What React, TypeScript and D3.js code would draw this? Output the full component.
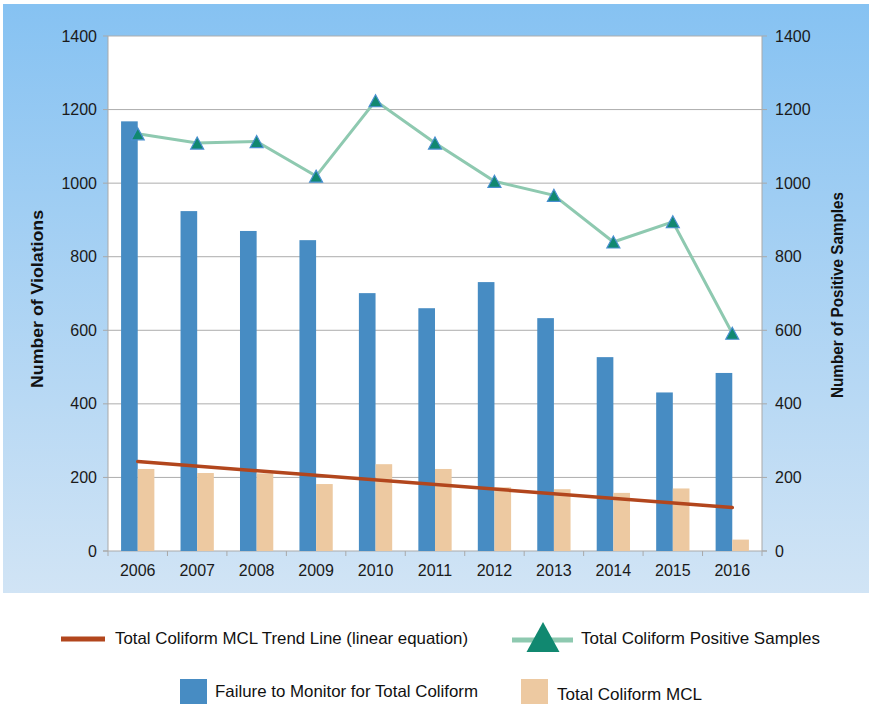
import { useEffect, useRef } from 'react';
import * as d3 from 'd3';

// data
const years = ['2006', '2007', '2008', '2009', '2010', '2011', '2012', '2013', '2014', '2015', '2016'];
const failureToMonitor = [1168, 924, 870, 845, 701, 660, 731, 633, 527, 431, 484];
const coliformMCL = [223, 212, 211, 182, 236, 223, 173, 168, 158, 170, 31];
const positiveSamples = [1134, 1109, 1113, 1019, 1224, 1109, 1005, 967, 840, 895, 592];
const yTicks = [0, 200, 400, 600, 800, 1000, 1200, 1400];

const FONT = '"Liberation Sans", Arial, Helvetica, sans-serif';
const BLUE = '#478cc3';
const TAN = '#edc9a1';
const RUST = '#b2461d';
const MINT = '#8ec9b0';
const TEAL = '#118870';

export default function App() {
  const svgRef = useRef<SVGSVGElement | null>(null);

  useEffect(() => {
    if (!svgRef.current) return;
    const W = 869;
    const H = 704;
    const plot = { left: 108, right: 762, top: 36, bottom: 551 };

    const svg = d3.select(svgRef.current);
    svg.selectAll('*').remove();
    svg.attr('width', W).attr('height', H);

    // background panel gradient
    const defs = svg.append('defs');
    const grad = defs
      .append('linearGradient')
      .attr('id', 'bg')
      .attr('x1', 0)
      .attr('y1', 0)
      .attr('x2', 0)
      .attr('y2', 1);
    grad.append('stop').attr('offset', '0%').attr('stop-color', '#86c2f2');
    grad.append('stop').attr('offset', '100%').attr('stop-color', '#d1e4f5');

    svg.append('rect').attr('width', W).attr('height', H).attr('fill', '#fff');
    svg.append('rect').attr('x', 3).attr('y', 4).attr('width', W - 3).attr('height', 589).attr('fill', 'url(#bg)');

    svg
      .append('rect')
      .attr('x', plot.left)
      .attr('y', plot.top)
      .attr('width', plot.right - plot.left)
      .attr('height', plot.bottom - plot.top)
      .attr('fill', '#fff');

    const x = d3.scaleBand<string>().domain(years).range([plot.left, plot.right]);
    const y = d3.scaleLinear().domain([0, 1400]).range([plot.bottom, plot.top]);
    const barW = x.bandwidth() * 0.28;
    const cx = (d: string) => (x(d) as number) + x.bandwidth() / 2;

    // gridlines
    svg
      .append('g')
      .selectAll('line')
      .data(yTicks.filter((t) => t > 0))
      .join('line')
      .attr('x1', plot.left)
      .attr('x2', plot.right)
      .attr('y1', (d) => y(d))
      .attr('y2', (d) => y(d))
      .attr('stroke', '#adadad')
      .attr('stroke-width', 1);

    // axis lines + ticks
    const axisColor = '#a9a9a9';
    const ax = svg.append('g').attr('stroke', axisColor).attr('stroke-width', 1);
    ax.append('line').attr('x1', plot.left).attr('x2', plot.left).attr('y1', plot.top).attr('y2', plot.bottom);
    ax.append('line').attr('x1', plot.right).attr('x2', plot.right).attr('y1', plot.top).attr('y2', plot.bottom);
    ax.append('line').attr('x1', plot.left - 5).attr('x2', plot.right + 5).attr('y1', plot.bottom).attr('y2', plot.bottom);
    ax.selectAll('.tl')
      .data(yTicks)
      .join('line')
      .attr('x1', plot.left - 5)
      .attr('x2', plot.left)
      .attr('y1', (d) => y(d))
      .attr('y2', (d) => y(d));
    ax.selectAll('.tr')
      .data(yTicks)
      .join('line')
      .attr('x1', plot.right)
      .attr('x2', plot.right + 5)
      .attr('y1', (d) => y(d))
      .attr('y2', (d) => y(d));
    ax.selectAll('.tb')
      .data([...years.map((d) => x(d) as number), plot.right])
      .join('line')
      .attr('x1', (d) => d)
      .attr('x2', (d) => d)
      .attr('y1', plot.bottom)
      .attr('y2', plot.bottom + 5);

    // tick labels
    const labels = svg.append('g').attr('font-family', FONT).attr('font-size', 16).attr('fill', '#1a1a1a');
    labels
      .selectAll('.l')
      .data(yTicks)
      .join('text')
      .attr('x', plot.left - 11)
      .attr('y', (d) => y(d) + 5.5)
      .attr('text-anchor', 'end')
      .text((d) => d);
    labels
      .selectAll('.r')
      .data(yTicks)
      .join('text')
      .attr('x', plot.right + 13)
      .attr('y', (d) => y(d) + 5.5)
      .text((d) => d);
    labels
      .selectAll('.b')
      .data(years)
      .join('text')
      .attr('x', (d) => cx(d))
      .attr('y', plot.bottom + 25)
      .attr('text-anchor', 'middle')
      .text((d) => d);

    // axis titles
    svg
      .append('text')
      .attr('transform', 'translate(43,299) rotate(-90)')
      .attr('text-anchor', 'middle')
      .attr('font-family', FONT)
      .attr('font-weight', 'bold')
      .attr('font-size', 16.5)
      .attr('textLength', 178)
      .attr('lengthAdjust', 'spacingAndGlyphs')
      .attr('fill', '#111')
      .text('Number of Violations');
    svg
      .append('text')
      .attr('transform', 'translate(843,295) rotate(-90)')
      .attr('text-anchor', 'middle')
      .attr('font-family', FONT)
      .attr('font-weight', 'bold')
      .attr('font-size', 16.5)
      .attr('textLength', 206)
      .attr('lengthAdjust', 'spacingAndGlyphs')
      .attr('fill', '#111')
      .text('Number of Positive Samples');

    // bars
    svg
      .append('g')
      .selectAll('rect')
      .data(years)
      .join('rect')
      .attr('x', (d) => cx(d) - barW)
      .attr('y', (_, i) => y(failureToMonitor[i]))
      .attr('width', barW)
      .attr('height', (_, i) => plot.bottom - y(failureToMonitor[i]))
      .attr('fill', BLUE);
    svg
      .append('g')
      .selectAll('rect')
      .data(years)
      .join('rect')
      .attr('x', (d) => cx(d))
      .attr('y', (_, i) => y(coliformMCL[i]))
      .attr('width', barW)
      .attr('height', (_, i) => plot.bottom - y(coliformMCL[i]))
      .attr('fill', TAN);

    // linear trend of MCL (least squares)
    const n = coliformMCL.length;
    const mx = (n - 1) / 2;
    const my = d3.mean(coliformMCL) as number;
    const slope =
      d3.sum(coliformMCL, (v, i) => (i - mx) * (v - my)) / d3.sum(coliformMCL, (_, i) => (i - mx) * (i - mx));
    const trend = [0, n - 1].map((i) => ({ year: years[i], v: my + slope * (i - mx) }));
    const line = d3
      .line<{ year: string; v: number }>()
      .x((d) => cx(d.year))
      .y((d) => y(d.v));
    svg
      .append('path')
      .attr('d', line(trend))
      .attr('fill', 'none')
      .attr('stroke', RUST)
      .attr('stroke-width', 3.5)
      .attr('stroke-linecap', 'round');

    // positive samples line + triangle markers
    const pts = years.map((d, i) => ({ year: d, v: positiveSamples[i] }));
    svg
      .append('path')
      .attr('d', line(pts))
      .attr('fill', 'none')
      .attr('stroke', MINT)
      .attr('stroke-width', 3);
    const tri = (w: number, h: number) => `M0,${-h / 2}L${w / 2},${h / 2}L${-w / 2},${h / 2}Z`;
    svg
      .append('g')
      .selectAll('path')
      .data(pts)
      .join('path')
      .attr('transform', (d) => `translate(${cx(d.year)},${y(d.v)})`)
      .attr('d', tri(13, 12))
      .attr('fill', TEAL)
      .attr('stroke', '#4a8fd0')
      .attr('stroke-width', 1.2);

    // legend
    const lg = svg.append('g').attr('font-family', FONT).attr('font-size', 16.5).attr('fill', '#111');
    const legendText = (x0: number, y0: number, len: number, s: string) =>
      lg
        .append('text')
        .attr('x', x0)
        .attr('y', y0)
        .attr('textLength', len)
        .attr('lengthAdjust', 'spacingAndGlyphs')
        .text(s);

    lg.append('line').attr('x1', 61).attr('x2', 105).attr('y1', 639).attr('y2', 639).attr('stroke', RUST).attr('stroke-width', 5);
    legendText(115, 644, 353, 'Total Coliform MCL Trend Line (linear equation)');

    lg.append('line').attr('x1', 512).attr('x2', 573).attr('y1', 640).attr('y2', 640).attr('stroke', MINT).attr('stroke-width', 5);
    lg.append('path').attr('transform', 'translate(543,637)').attr('d', tri(33, 30)).attr('fill', TEAL);
    legendText(581, 644, 239, 'Total Coliform Positive Samples');

    lg.append('rect').attr('x', 180).attr('y', 679).attr('width', 27).attr('height', 25).attr('fill', BLUE);
    legendText(215, 697, 263, 'Failure to Monitor for Total Coliform');

    lg.append('rect').attr('x', 521).attr('y', 679).attr('width', 27).attr('height', 25).attr('fill', TAN);
    legendText(557, 700, 145, 'Total Coliform MCL');
  }, []);

  return (
    <div style={{ position: 'absolute', left: 0, top: 0 }}>
      <svg ref={svgRef} style={{ display: 'block' }}></svg>
    </div>
  );
}
